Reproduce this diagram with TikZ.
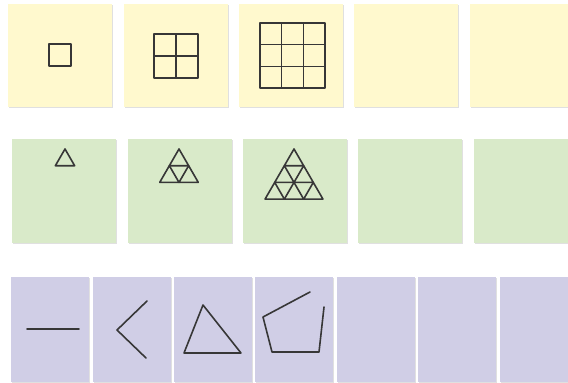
\documentclass[tikz,border=0pt]{standalone}
\definecolor{ylw}{RGB}{255,249,206}
\definecolor{grn}{RGB}{217,234,201}
\definecolor{prp}{RGB}{208,206,230}
\definecolor{ink}{RGB}{55,55,55}
\begin{document}
\begin{tikzpicture}[x=1pt,y=-1pt,
  shadowc/.style={fill=black!12},
  ink/.style={draw=ink,line width=1.6pt,line join=round,line cap=round}]
\useasboundingbox (0,0) rectangle (568,383);
\fill[white] (0,0) rectangle (568,383);
% row 1 (yellow)
\foreach \x in {8,124,239,354,470}{
  \fill[shadowc] (\x+1,5) rectangle (\x+105,108);
  \fill[ylw] (\x,4) rectangle (\x+104,107);
}
% row 2 (green)
\foreach \x in {12,128,243,358,474}{
  \fill[shadowc] (\x+1,140) rectangle (\x+105,244);
  \fill[grn] (\x,139) rectangle (\x+104,243);
}
% row 3 (purple)
\foreach \x in {11,93,174,255,337,418,500}{
  \fill[shadowc] (\x+1,278) rectangle (\x+79,383);
  \fill[prp] (\x,277) rectangle (\x+78,382);
}
% squares
\draw[ink] (49,44) rectangle (71,66);
\draw[ink] (154,34) rectangle (198,78) (154,56) -- (198,56) (176,34) -- (176,78);
\draw[ink] (260,23) rectangle (325,88);
\draw[ink] (260,44.67) -- (325,44.67) (260,66.33) -- (325,66.33)
           (281.67,23) -- (281.67,88) (303.33,23) -- (303.33,88);
% triangle grids
\foreach \ax/\n in {65/1,179/2,294/3}{
  \foreach \i in {1,...,\n}{
    \foreach \j in {1,...,\i}{
      \pgfmathsetmacro{\px}{\ax+(\j-1-(\i-1)/2)*19.3}
      \pgfmathsetmacro{\py}{149+(\i-1)*16.7}
      \draw[ink] (\px,\py) -- (\px-9.65,\py+16.7) -- (\px+9.65,\py+16.7) -- cycle;
    }
  }
}
% polygons
\draw[ink] (27,329) -- (79,329);
\draw[ink] (147,301) -- (117,330) -- (146,358);
\draw[ink] (203,305) -- (184,353) -- (241,353) -- cycle;
\draw[ink] (310,292) -- (263,317) -- (272,352) -- (319,352) -- (324,307);
\end{tikzpicture}
\end{document}
